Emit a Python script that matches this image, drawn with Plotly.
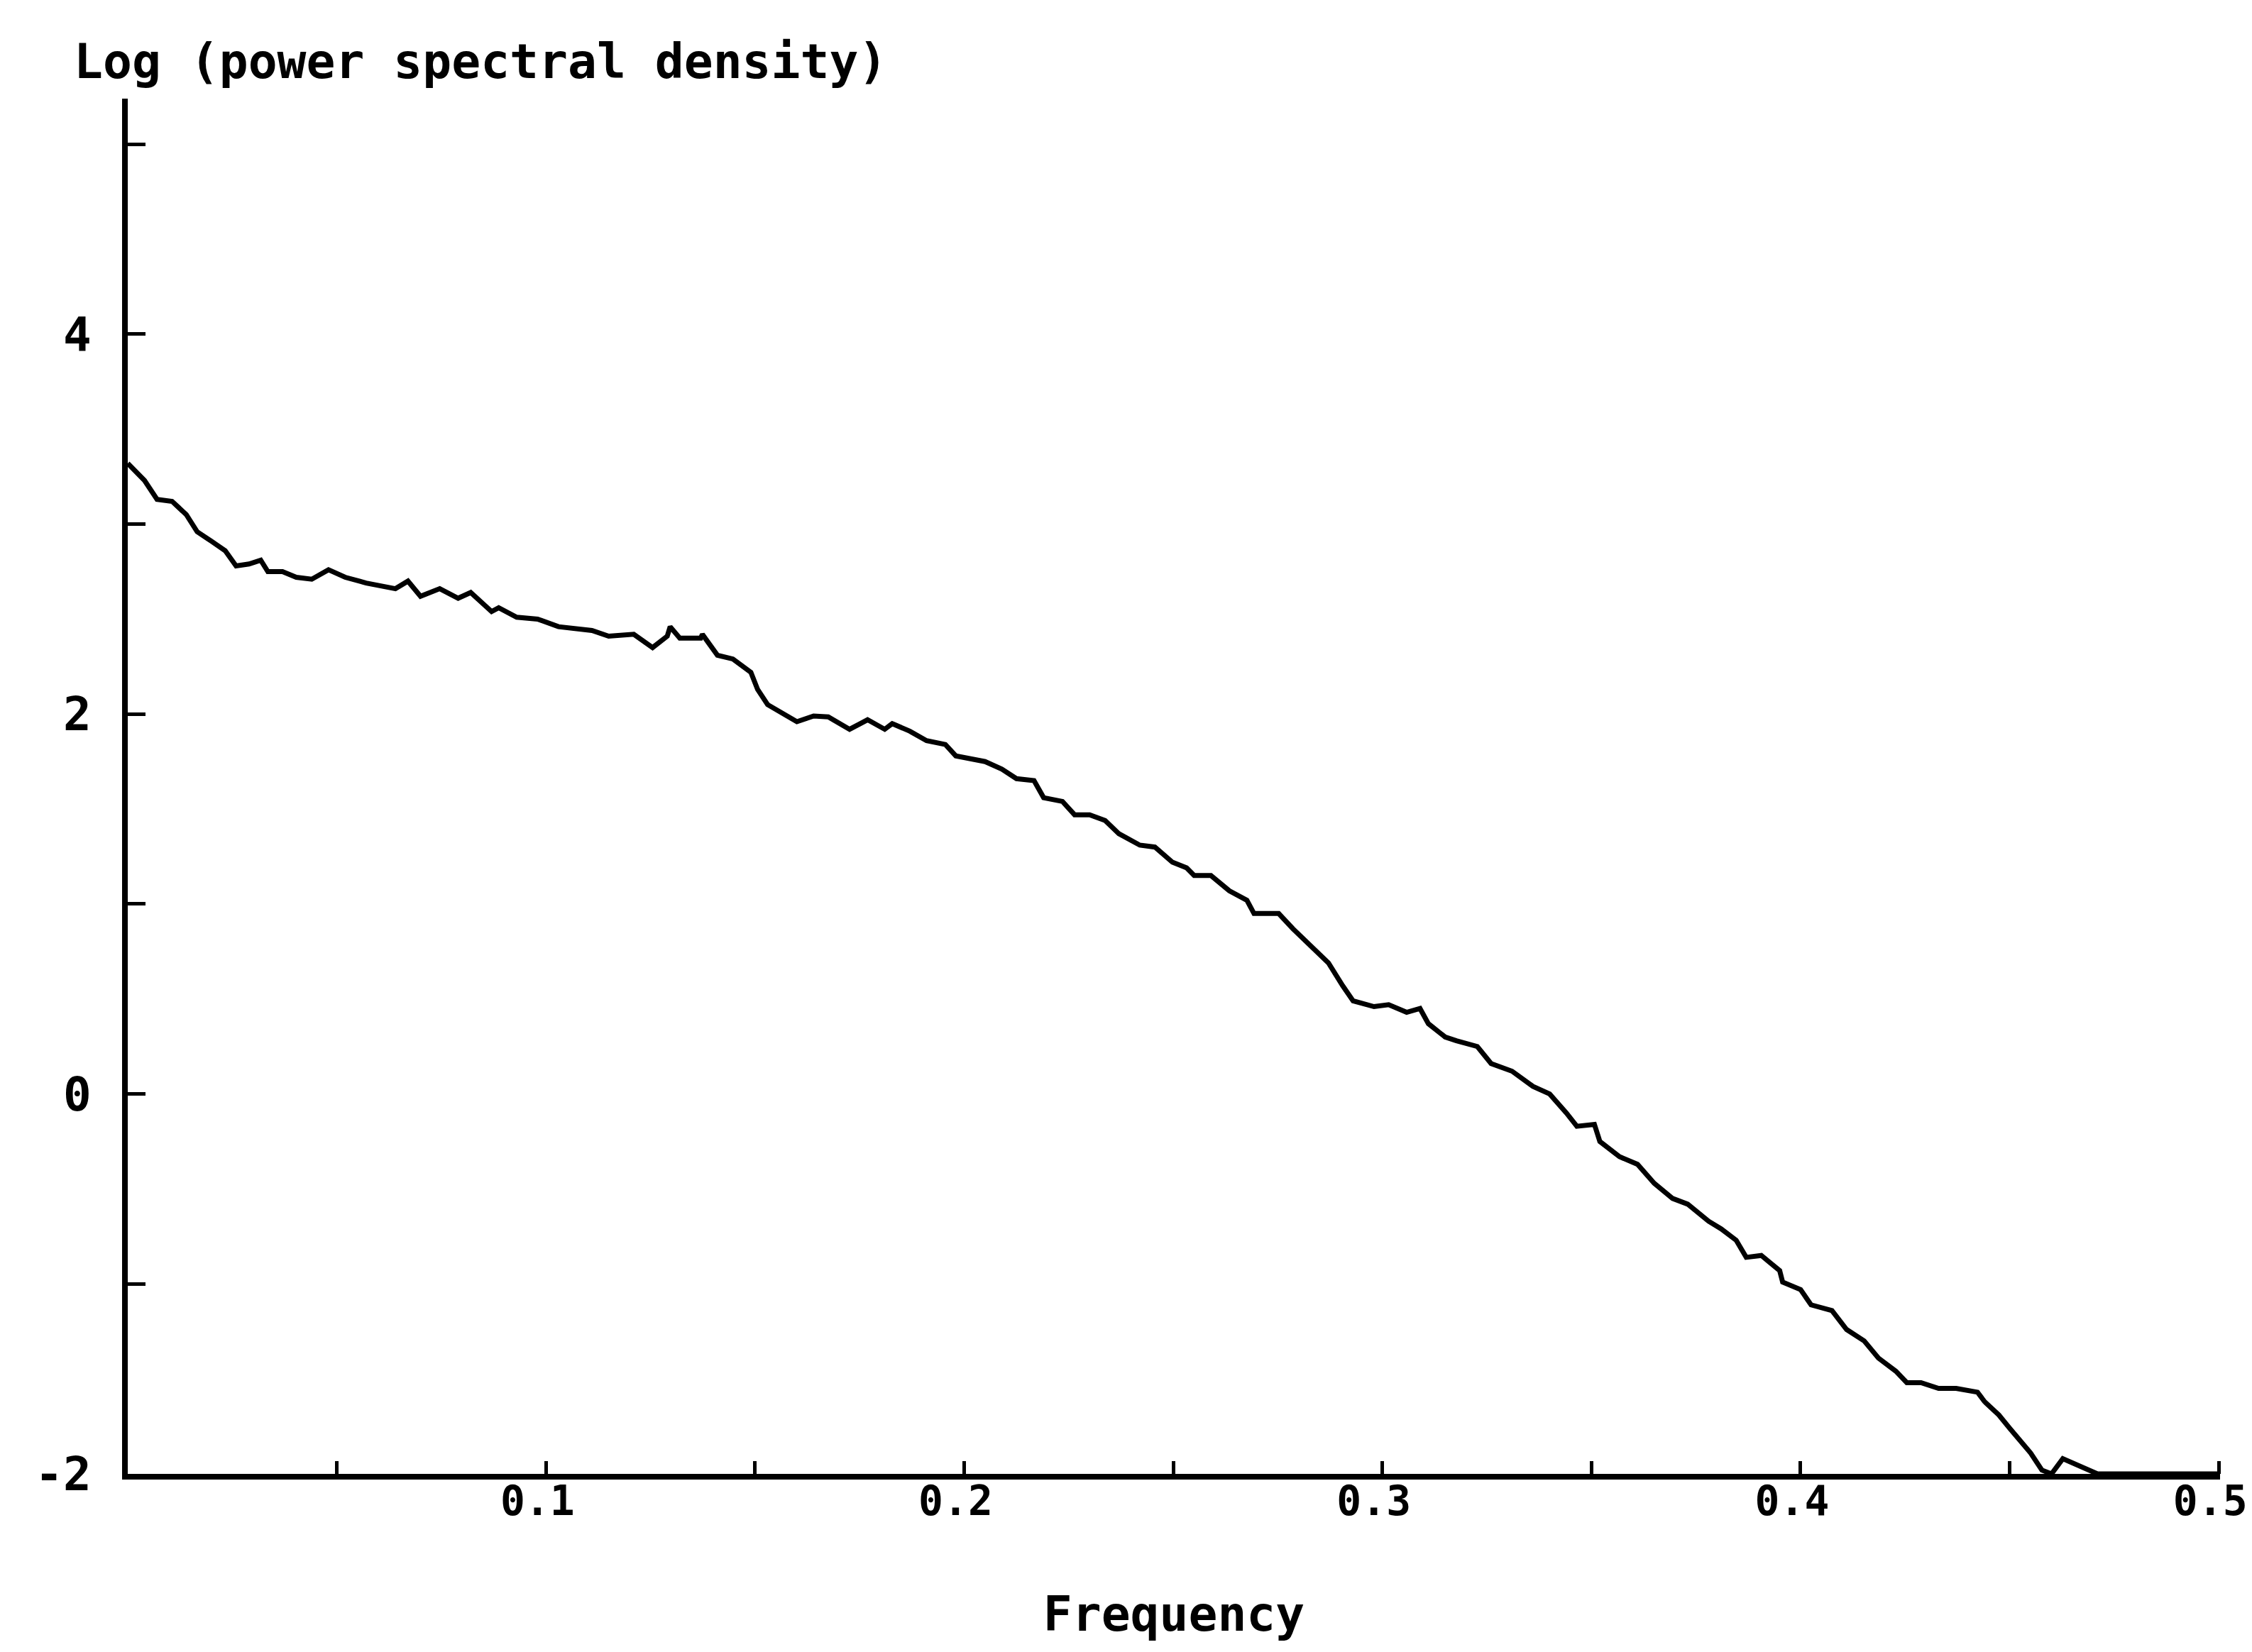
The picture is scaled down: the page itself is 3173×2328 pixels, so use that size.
import plotly.graph_objects as go

# Data
freq = [0.000, 0.004, 0.007, 0.0106, 0.014, 0.0166, 0.020, 0.0233, 0.0259, 0.029,
        0.0318, 0.0335, 0.037, 0.0403, 0.044, 0.048, 0.052, 0.057, 0.064, 0.067,
        0.070, 0.0746, 0.079, 0.082, 0.087, 0.0887, 0.093, 0.098, 0.103, 0.111,
        0.115, 0.121, 0.1255, 0.129, 0.1297, 0.132, 0.137, 0.1374, 0.141, 0.1447,
        0.149, 0.1506, 0.153, 0.157, 0.160, 0.164, 0.1675, 0.1726, 0.1769, 0.181,
        0.1828, 0.187, 0.191, 0.1955, 0.198, 0.205, 0.209, 0.2125, 0.2167, 0.219,
        0.2235, 0.2264, 0.230, 0.2337, 0.237, 0.242, 0.2456, 0.2498, 0.2532, 0.255,
        0.259, 0.2634, 0.2676, 0.2693, 0.2752, 0.2786, 0.2829, 0.2871, 0.2905, 0.293,
        0.298, 0.3015, 0.3058, 0.309, 0.311, 0.315, 0.3177, 0.3227, 0.326, 0.331,
        0.336, 0.340, 0.344, 0.3465, 0.3507, 0.352, 0.3567, 0.361, 0.365, 0.3694,
        0.373, 0.376, 0.378, 0.381, 0.3846, 0.387, 0.3906, 0.395, 0.3957, 0.400,
        0.4025, 0.4075, 0.411, 0.4152, 0.4186, 0.4228, 0.4254, 0.4288, 0.433, 0.4372,
        0.4423, 0.444, 0.4474, 0.450, 0.4525, 0.455, 0.4577, 0.460, 0.4627, 0.467,
        0.471, 0.500]
log_psd = [3.32, 3.23, 3.13, 3.12, 3.05, 2.96, 2.91, 2.86, 2.78, 2.79,
           2.81, 2.75, 2.75, 2.72, 2.71, 2.76, 2.72, 2.69, 2.66, 2.70,
           2.62, 2.66, 2.61, 2.64, 2.54, 2.56, 2.51, 2.50, 2.46, 2.44,
           2.41, 2.42, 2.35, 2.41, 2.46, 2.40, 2.40, 2.42, 2.31, 2.29,
           2.22, 2.13, 2.05, 2.00, 1.96, 1.99, 1.985, 1.92, 1.97, 1.92,
           1.95, 1.91, 1.86, 1.84, 1.78, 1.75, 1.71, 1.66, 1.65, 1.56,
           1.54, 1.47, 1.47, 1.44, 1.37, 1.31, 1.30, 1.22, 1.19, 1.15,
           1.15, 1.07, 1.02, 0.95, 0.95, 0.87, 0.78, 0.69, 0.57, 0.49,
           0.46, 0.47, 0.43, 0.45, 0.37, 0.30, 0.28, 0.25, 0.16, 0.12,
           0.04, 0.00, -0.10, -0.17, -0.16, -0.25, -0.33, -0.37, -0.47, -0.55,
           -0.58, -0.63, -0.67, -0.71, -0.77, -0.86, -0.85, -0.93, -0.99, -1.03,
           -1.11, -1.14, -1.24, -1.30, -1.39, -1.46, -1.52, -1.52, -1.55, -1.55,
           -1.57, -1.62, -1.69, -1.76, -1.83, -1.89, -1.98, -2.00, -1.92, -1.96,
           -2.00, -2.00]

x_tickvals = [0.05, 0.1, 0.15, 0.2, 0.25, 0.3, 0.35, 0.4, 0.45, 0.5]
x_ticktext = ["", "0.1", "", "0.2", "", "0.3", "", "0.4", "", "0.5"]
y_tickvals = [-2, -1, 0, 1, 2, 3, 4, 5]
y_ticktext = ["-2", "", "0", "", "2", "", "4", ""]

FONT = "DejaVu Sans Mono"

fig = go.Figure()
fig.add_trace(go.Scatter(x=freq, y=log_psd, mode="lines",
                         line=dict(color="black", width=7), showlegend=False,
                         hoverinfo="skip"))

fig.update_layout(
    width=3173, height=2328,
    margin=dict(l=172, r=53, t=131, b=259),
    paper_bgcolor="white", plot_bgcolor="white",
    font=dict(family=FONT, color="black", size=64),
    showlegend=False,
)

fig.update_xaxes(
    range=[0, 0.5003], showgrid=False, zeroline=False, automargin=False,
    showline=True, linecolor="black", linewidth=8,
    ticks="inside", ticklen=18, tickwidth=5, tickcolor="black",
    tickvals=x_tickvals, ticktext=x_ticktext,
    tickfont=dict(family=FONT, size=58, color="black", weight="bold"),
    ticklabelstandoff=-20, ticklabelshift=-12, ticklabeloverflow="allow",
    title=dict(text="Frequency",
               font=dict(family=FONT, size=68, color="black", weight="bold"),
               standoff=106),
)
fig.update_yaxes(
    range=[-2, 5.24], showgrid=False, zeroline=False, automargin=False,
    showline=True, linecolor="black", linewidth=8,
    ticks="inside", ticklen=25, tickwidth=5, tickcolor="black",
    tickvals=y_tickvals, ticktext=y_ticktext,
    tickfont=dict(family=FONT, size=66, color="black", weight="bold"),
    ticklabelstandoff=30,
)

fig.add_annotation(
    text="Log (power spectral density)", xref="paper", yref="paper",
    x=-0.0265, y=1.0273, xanchor="left", yanchor="middle", showarrow=False,
    font=dict(family=FONT, size=68, color="black", weight="bold"),
)

fig.write_html("out.html")
